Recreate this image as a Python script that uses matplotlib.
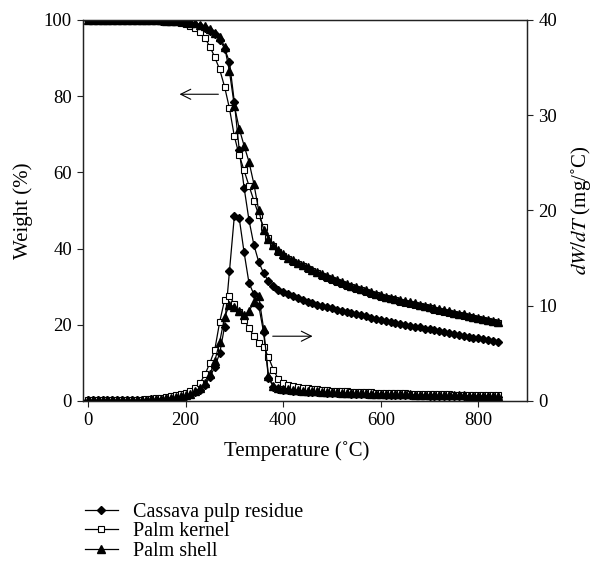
import numpy as np
import matplotlib
matplotlib.use("Agg")
import matplotlib.pyplot as plt

plt.rcParams['font.family'] = ['Liberation Serif', 'DejaVu Serif']
plt.rcParams['mathtext.fontset'] = 'stix'

# temperature grid (°C)
temp = np.arange(0, 850, 10)

# weight (%)
w_cassava = [100, 100, 100, 100, 100, 100, 100, 100, 100, 100, 100,
             100, 100, 99.9, 99.9, 99.8, 99.8, 99.7, 99.6, 99.5, 99.3,
             99.1, 98.8, 98.4, 97.9, 97.2, 96.3, 94.8, 92.5, 89.0, 78.5,
             66.0, 56.0, 47.5, 41.0, 36.5, 33.5, 31.4, 30.1, 29.2, 28.5,
             28.0, 27.5, 27.0, 26.5, 26.1, 25.7, 25.3, 25.0, 24.6, 24.3,
             24.0, 23.7, 23.4, 23.1, 22.8, 22.5, 22.2, 21.9, 21.5, 21.2,
             21.0, 20.7, 20.5, 20.2, 20.0, 19.7, 19.5, 19.3, 19.0, 18.8,
             18.6, 18.3, 18.1, 17.8, 17.6, 17.4, 17.1, 16.9, 16.6, 16.4,
             16.2, 15.9, 15.7, 15.5]
w_kernel = [100, 100, 100, 100, 100, 100, 100, 100, 100, 100, 100,
            100, 100, 99.9, 99.9, 99.8, 99.7, 99.6, 99.4, 99.2, 98.9,
            98.5, 97.9, 96.8, 95.2, 93.0, 90.2, 87.0, 82.5, 76.8, 69.5,
            64.5, 60.5, 56.5, 52.6, 48.8, 45.6, 42.8, 40.8, 39.2, 38.0,
            37.2, 36.5, 35.9, 35.3, 34.7, 34.1, 33.5, 32.9, 32.3, 31.8,
            31.3, 30.8, 30.3, 29.9, 29.4, 29.0, 28.6, 28.2, 27.8, 27.4,
            27.0, 26.7, 26.4, 26.1, 25.8, 25.5, 25.2, 24.9, 24.6, 24.3,
            24.0, 23.7, 23.4, 23.1, 22.8, 22.5, 22.3, 22.0, 21.7, 21.4,
            21.2, 20.9, 20.7, 20.4]
w_shell = [100, 100, 100, 100, 100, 100, 100, 100, 100, 100, 100,
           100, 100, 100, 99.9, 99.9, 99.8, 99.8, 99.7, 99.6, 99.5,
           99.3, 99.1, 98.8, 98.3, 97.6, 96.7, 95.6, 93.0, 86.5, 77.5,
           71.5, 67.0, 62.8, 57.0, 50.0, 45.0, 42.6, 41.0, 39.6, 38.5,
           37.6, 36.9, 36.3, 35.7, 35.1, 34.5, 33.9, 33.3, 32.7, 32.2,
           31.7, 31.2, 30.7, 30.3, 29.8, 29.4, 29.0, 28.6, 28.2, 27.8,
           27.4, 27.1, 26.8, 26.5, 26.2, 25.9, 25.6, 25.3, 25.0, 24.7,
           24.4, 24.1, 23.8, 23.5, 23.2, 22.9, 22.7, 22.4, 22.1, 21.8,
           21.6, 21.3, 21.1, 20.8]

# dW/dT (mg/°C)
d_cassava = [0.1, 0.1, 0.1, 0.1, 0.1, 0.1, 0.1, 0.1, 0.1, 0.1, 0.1,
             0.1, 0.15, 0.2, 0.2, 0.25, 0.3, 0.35, 0.4, 0.45, 0.55,
             0.7, 0.9, 1.2, 1.7, 2.5, 3.6, 5.0, 7.8, 13.6, 19.4,
             19.2, 15.6, 12.4, 11.2, 10.0, 7.2, 2.4, 1.5, 1.3, 1.2,
             1.15, 1.1, 1.05, 1.0, 0.95, 0.95, 0.9, 0.9, 0.85, 0.85,
             0.8, 0.8, 0.8, 0.75, 0.75, 0.75, 0.7, 0.7, 0.7, 0.7,
             0.65, 0.65, 0.65, 0.65, 0.6, 0.6, 0.6, 0.6, 0.6, 0.55,
             0.55, 0.55, 0.55, 0.55, 0.5, 0.5, 0.5, 0.5, 0.5, 0.5,
             0.5, 0.45, 0.45, 0.45]
d_kernel = [0.1, 0.1, 0.1, 0.1, 0.1, 0.1, 0.1, 0.1, 0.1, 0.1, 0.1,
            0.15, 0.2, 0.25, 0.3, 0.35, 0.4, 0.5, 0.6, 0.7, 0.8,
            1.1, 1.4, 1.9, 2.8, 4.0, 5.4, 8.3, 10.6, 11.0, 10.2,
            9.3, 8.5, 7.7, 6.8, 6.1, 5.7, 4.6, 3.3, 2.3, 1.9,
            1.7, 1.55, 1.45, 1.4, 1.35, 1.3, 1.25, 1.2, 1.15, 1.1,
            1.05, 1.0, 1.0, 0.95, 0.95, 0.9, 0.9, 0.9, 0.85, 0.85,
            0.85, 0.8, 0.8, 0.8, 0.8, 0.75, 0.75, 0.75, 0.75, 0.7,
            0.7, 0.7, 0.7, 0.7, 0.65, 0.65, 0.65, 0.65, 0.65, 0.6,
            0.6, 0.6, 0.6, 0.6]
d_shell = [0.1, 0.1, 0.1, 0.1, 0.1, 0.1, 0.1, 0.1, 0.1, 0.1, 0.1,
           0.1, 0.15, 0.2, 0.2, 0.25, 0.3, 0.35, 0.4, 0.5, 0.6,
           0.75, 1.0, 1.35, 1.9, 2.8, 4.2, 6.2, 8.8, 10.1, 9.9,
           9.4, 9.0, 9.4, 10.4, 11.0, 7.6, 2.6, 1.6, 1.4, 1.3,
           1.25, 1.2, 1.15, 1.1, 1.05, 1.0, 1.0, 0.95, 0.95, 0.9,
           0.9, 0.85, 0.85, 0.85, 0.8, 0.8, 0.8, 0.75, 0.75, 0.75,
           0.75, 0.7, 0.7, 0.7, 0.7, 0.7, 0.65, 0.65, 0.65, 0.65,
           0.65, 0.6, 0.6, 0.6, 0.6, 0.6, 0.6, 0.55, 0.55, 0.55,
           0.55, 0.55, 0.5, 0.5]

labels = ['Cassava pulp residue', 'Palm kernel', 'Palm shell']

fig = plt.figure(figsize=(5.93, 5.62), dpi=100)
ax = fig.add_axes([0.140, 0.2865, 0.749, 0.678])
ax2 = ax.twinx()

styles = [
    dict(marker='D', markersize=4.4, mfc='black', mec='black'),
    dict(marker='s', markersize=4.6, mfc='white', mec='black', mew=0.8),
    dict(marker='^', markersize=5.2, mfc='black', mec='black'),
]
lw = 0.9
weights = [w_cassava, w_kernel, w_shell]
dtgs = [d_cassava, d_kernel, d_shell]

handles = []
for w, d, st, lab in zip(weights, dtgs, styles, labels):
    h, = ax.plot(temp, w, color='black', lw=lw, label=lab, **st)
    ax2.plot(temp, d, color='black', lw=lw, **st)
    handles.append(h)

ax.set_xlim(-10, 900)
ax.set_ylim(0, 100)
ax2.set_ylim(0, 40)
ax.set_xticks([0, 200, 400, 600, 800])
ax.set_yticks([0, 20, 40, 60, 80, 100])
ax2.set_yticks([0, 10, 20, 30, 40])

fs_tick = 13.5
fs_lab = 15
for a in (ax, ax2):
    a.tick_params(labelsize=fs_tick, direction='out', length=4.5, width=0.8,
                  colors='#222222', labelcolor='black')
    for s in a.spines.values():
        s.set_linewidth(0.9)
        s.set_color('#222222')

ax.set_xlabel('Temperature (˚C)', fontsize=fs_lab)
ax.set_ylabel('Weight (%)', fontsize=fs_lab)
ax2.set_ylabel('$dW/dT$ (mg/˚C)', fontsize=fs_lab)
ax.xaxis.set_label_coords(0.48, -0.105)
ax.yaxis.set_label_coords(-0.113, 0.5)
ax2.yaxis.set_label_coords(1.095, 0.5)

# arrows pointing to the relevant axis
ax.annotate('', xy=(182, 80.5), xytext=(273, 80.5),
            arrowprops=dict(arrowstyle='->', lw=0.8, color='black',
                            mutation_scale=18))
ax2.annotate('', xy=(466, 6.8), xytext=(373, 6.8),
             arrowprops=dict(arrowstyle='->', lw=0.8, color='black',
                             mutation_scale=18))

fig.legend(handles=handles, labels=labels, loc='upper left',
           bbox_to_anchor=(0.129, 0.12), frameon=False, fontsize=14.5,
           handlelength=1.65, handletextpad=0.75, labelspacing=0.02,
           borderaxespad=0, borderpad=0.4)

fig.savefig('out.png', dpi=100)
